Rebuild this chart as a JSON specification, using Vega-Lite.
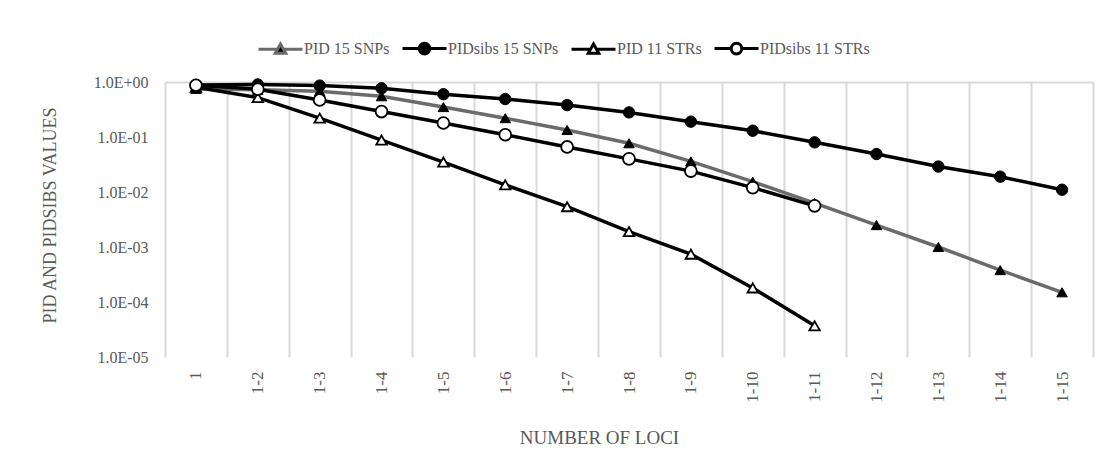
{
  "$schema": "https://vega.github.io/schema/vega-lite/v6.json",
  "width": 928,
  "height": 275,
  "autosize": {"type": "none"},
  "padding": {"left": 165, "top": 82, "right": 18, "bottom": 106},
  "background": "white",
  "config": {"view": {"stroke": null}, "font": "Liberation Serif"},
  "data": {
    "values": [
      {"loci": "1", "series": "PID 15 SNPs", "v": 0.75},
      {"loci": "1-2", "series": "PID 15 SNPs", "v": 0.72},
      {"loci": "1-3", "series": "PID 15 SNPs", "v": 0.68},
      {"loci": "1-4", "series": "PID 15 SNPs", "v": 0.55},
      {"loci": "1-5", "series": "PID 15 SNPs", "v": 0.35},
      {"loci": "1-6", "series": "PID 15 SNPs", "v": 0.22},
      {"loci": "1-7", "series": "PID 15 SNPs", "v": 0.134},
      {"loci": "1-8", "series": "PID 15 SNPs", "v": 0.077},
      {"loci": "1-9", "series": "PID 15 SNPs", "v": 0.036},
      {"loci": "1-10", "series": "PID 15 SNPs", "v": 0.0154},
      {"loci": "1-11", "series": "PID 15 SNPs", "v": 0.0063},
      {"loci": "1-12", "series": "PID 15 SNPs", "v": 0.0025},
      {"loci": "1-13", "series": "PID 15 SNPs", "v": 0.001},
      {"loci": "1-14", "series": "PID 15 SNPs", "v": 0.00038},
      {"loci": "1-15", "series": "PID 15 SNPs", "v": 0.00015},
      {"loci": "1", "series": "PIDsibs 15 SNPs", "v": 0.88},
      {"loci": "1-2", "series": "PIDsibs 15 SNPs", "v": 0.9},
      {"loci": "1-3", "series": "PIDsibs 15 SNPs", "v": 0.86},
      {"loci": "1-4", "series": "PIDsibs 15 SNPs", "v": 0.77},
      {"loci": "1-5", "series": "PIDsibs 15 SNPs", "v": 0.6},
      {"loci": "1-6", "series": "PIDsibs 15 SNPs", "v": 0.49},
      {"loci": "1-7", "series": "PIDsibs 15 SNPs", "v": 0.38},
      {"loci": "1-8", "series": "PIDsibs 15 SNPs", "v": 0.28},
      {"loci": "1-9", "series": "PIDsibs 15 SNPs", "v": 0.19},
      {"loci": "1-10", "series": "PIDsibs 15 SNPs", "v": 0.13},
      {"loci": "1-11", "series": "PIDsibs 15 SNPs", "v": 0.08},
      {"loci": "1-12", "series": "PIDsibs 15 SNPs", "v": 0.049},
      {"loci": "1-13", "series": "PIDsibs 15 SNPs", "v": 0.029},
      {"loci": "1-14", "series": "PIDsibs 15 SNPs", "v": 0.019},
      {"loci": "1-15", "series": "PIDsibs 15 SNPs", "v": 0.011},
      {"loci": "1", "series": "PID 11 STRs", "v": 0.8},
      {"loci": "1-2", "series": "PID 11 STRs", "v": 0.52},
      {"loci": "1-3", "series": "PID 11 STRs", "v": 0.22},
      {"loci": "1-4", "series": "PID 11 STRs", "v": 0.088},
      {"loci": "1-5", "series": "PID 11 STRs", "v": 0.035},
      {"loci": "1-6", "series": "PID 11 STRs", "v": 0.0135},
      {"loci": "1-7", "series": "PID 11 STRs", "v": 0.0054},
      {"loci": "1-8", "series": "PID 11 STRs", "v": 0.0019},
      {"loci": "1-9", "series": "PID 11 STRs", "v": 0.00074},
      {"loci": "1-10", "series": "PID 11 STRs", "v": 0.00018},
      {"loci": "1-11", "series": "PID 11 STRs", "v": 0.000037},
      {"loci": "1", "series": "PIDsibs 11 STRs", "v": 0.87},
      {"loci": "1-2", "series": "PIDsibs 11 STRs", "v": 0.74},
      {"loci": "1-3", "series": "PIDsibs 11 STRs", "v": 0.47},
      {"loci": "1-4", "series": "PIDsibs 11 STRs", "v": 0.29},
      {"loci": "1-5", "series": "PIDsibs 11 STRs", "v": 0.18},
      {"loci": "1-6", "series": "PIDsibs 11 STRs", "v": 0.11},
      {"loci": "1-7", "series": "PIDsibs 11 STRs", "v": 0.066},
      {"loci": "1-8", "series": "PIDsibs 11 STRs", "v": 0.04},
      {"loci": "1-9", "series": "PIDsibs 11 STRs", "v": 0.024},
      {"loci": "1-10", "series": "PIDsibs 11 STRs", "v": 0.012},
      {"loci": "1-11", "series": "PIDsibs 11 STRs", "v": 0.0056}
    ]
  },
  "encoding": {
    "x": {
      "field": "loci",
      "type": "ordinal",
      "sort": ["1", "1-2", "1-3", "1-4", "1-5", "1-6", "1-7", "1-8", "1-9", "1-10", "1-11", "1-12", "1-13", "1-14", "1-15"],
      "scale": {"paddingInner": 0, "paddingOuter": 0},
      "axis": {
        "tickBand": "extent",
        "grid": true,
        "gridColor": "#d9d9d9",
        "gridWidth": 2,
        "ticks": false,
        "domain": false,
        "labelAngle": 270,
        "labelPadding": 14,
        "labelFont": "Liberation Serif",
        "labelFontSize": 17,
        "labelColor": "#595959",
        "title": "NUMBER OF LOCI",
        "titleFont": "Liberation Serif",
        "titleFontSize": 19,
        "titleFontWeight": "normal",
        "titleColor": "#595959",
        "titleX": 434,
        "titleY": 80,
        "titleBaseline": "middle",
        "titleAnchor": null,
        "titleAlign": "center"
      }
    },
    "y": {
      "field": "v",
      "type": "quantitative",
      "scale": {"type": "log", "domain": [0.00001, 1]},
      "axis": {
        "values": [0.00001, 0.0001, 0.001, 0.01, 0.1, 1],
        "labelExpr": "'1.0E' + (datum.value >= 1 ? '+00' : '-0' + round(-log(datum.value) / LN10))",
        "grid": true,
        "gridColor": "#d9d9d9",
        "gridWidth": 2,
        "gridOpacity": {"condition": {"test": "datum.value >= 1", "value": 1}, "value": 0},
        "ticks": false,
        "domain": false,
        "labelPadding": 17,
        "labelFont": "Liberation Serif",
        "labelFontSize": 16,
        "labelColor": "#595959",
        "title": "PID AND PIDSIBS VALUES",
        "titleFont": "Liberation Serif",
        "titleFontSize": 18,
        "titleFontWeight": "normal",
        "titleColor": "#595959",
        "titleX": -115,
        "titleY": 133,
        "titleAngle": 270,
        "titleAlign": "center",
        "titleBaseline": "middle",
        "titleAnchor": null
      }
    }
  },
  "layer": [
    {
      "mark": {"type": "line", "strokeWidth": 3.5},
      "encoding": {
        "color": {
          "field": "series",
          "type": "nominal",
          "scale": {
            "domain": ["PID 15 SNPs", "PIDsibs 15 SNPs", "PID 11 STRs", "PIDsibs 11 STRs"],
            "range": ["#6b6b6b", "#000000", "#000000", "#000000"]
          },
          "legend": {
            "title": null,
            "orient": "none",
            "direction": "horizontal",
            "legendX": 92,
            "legendY": -57,
            "labelFont": "Liberation Serif",
            "labelFontSize": 16,
            "labelColor": "#595959",
            "labelOffset": 0,
            "columnPadding": 6,
            "symbolSize": 1936,
            "encode": {
              "symbols": {
                "update": {
                  "shape": {"signal": "(datum.value === 'PID 15 SNPs' || datum.value === 'PID 11 STRs') ? 'M-1,0H-0.13M0.13,0H1M0,-0.23L0.24,0.19L-0.24,0.19Z' : 'M-1,0H-0.22M0.22,0H1M-0.24,0A0.24,0.24 0 1,0 0.24,0A0.24,0.24 0 1,0 -0.24,0Z'"},
                  "fill": {"signal": "(datum.value === 'PID 11 STRs' || datum.value === 'PIDsibs 11 STRs') ? '#ffffff' : '#000000'"},
                  "stroke": {"signal": "datum.value === 'PID 15 SNPs' ? '#6b6b6b' : '#000000'"},
                  "strokeWidth": {"value": 3},
                  "opacity": {"value": 1},
                  "fillOpacity": {"value": 1}
                }
              }
            }
          }
        }
      }
    },
    {
      "transform": [{"filter": "datum.series === 'PID 15 SNPs'"}],
      "mark": {"type": "point", "shape": "triangle-up", "filled": true, "fill": "#000000", "stroke": "#000000", "strokeWidth": 1, "opacity": 1, "size": 110}
    },
    {
      "transform": [{"filter": "datum.series === 'PIDsibs 15 SNPs'"}],
      "mark": {"type": "point", "shape": "circle", "filled": true, "fill": "#000000", "stroke": "#000000", "strokeWidth": 1, "opacity": 1, "size": 130}
    },
    {
      "transform": [{"filter": "datum.series === 'PID 11 STRs'"}],
      "mark": {"type": "point", "shape": "triangle-up", "fill": "#ffffff", "stroke": "#000000", "strokeWidth": 1.8, "opacity": 1, "fillOpacity": 1, "size": 110}
    },
    {
      "transform": [{"filter": "datum.series === 'PIDsibs 11 STRs'"}],
      "mark": {"type": "point", "shape": "circle", "fill": "#ffffff", "stroke": "#000000", "strokeWidth": 1.8, "opacity": 1, "fillOpacity": 1, "size": 140}
    }
  ]
}
